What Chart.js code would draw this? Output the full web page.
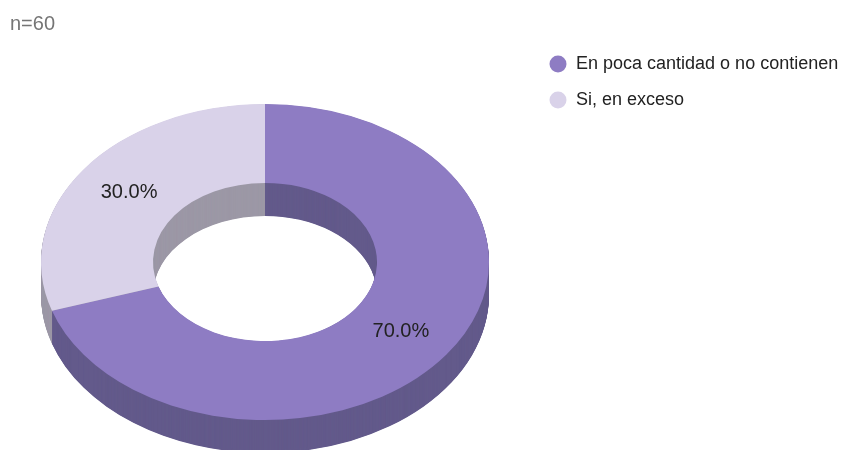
<!DOCTYPE html>
<html lang="es">
  <head>
    <meta charset="UTF-8" />
    <title>n=60</title>
    <style>
      body {
        margin: 0;
        background: white;
      }
      .wrap {
        position: relative;
        width: 842px;
        height: 450px;
      }
    </style>
  </head>
  <body>
    <div class="wrap">
      <canvas id="donut"></canvas>
    </div>

    <script src="https://cdn.jsdelivr.net/npm/chart.js"></script>
    <script>
      // Datos
      const categorias = ["En poca cantidad o no contienen", "Si, en exceso"];
      const respuestas = [42, 18];
      const titulo = "n=60";

      // Colores
      const colorCara = ["#8e7cc3", "#d9d2e9"];
      const colorLado = ["#635a8b", "#9c98a6"];

      // Proyeccion "3D": centro, radios de la elipse y profundidad
      const CX = 265;
      const CY = 262;
      const RX = 224;
      const RY = 158;
      const PROF = 33;

      function sector(ctx, a, dy, color) {
        ctx.beginPath();
        ctx.arc(a.x, a.y + dy, a.outerRadius, a.startAngle, a.endAngle);
        ctx.arc(a.x, a.y + dy, a.innerRadius, a.endAngle, a.startAngle, true);
        ctx.closePath();
        ctx.fillStyle = color;
        ctx.fill();
      }

      const inclinado = {
        id: "inclinado",
        beforeDatasetsDraw(chart) {
          const arcs = chart.getDatasetMeta(0).data;
          const a0 = arcs[0];
          const sx = RX / a0.outerRadius;
          const sy = RY / a0.outerRadius;
          const ctx = chart.ctx;
          ctx.save();
          ctx.translate(CX, CY);
          ctx.scale(sx, sy);
          ctx.translate(-a0.x, -a0.y);
          // paredes laterales, de abajo hacia arriba
          for (let k = PROF; k > 0; k -= 0.5) {
            arcs.forEach((a, i) => sector(ctx, a, k / sy, colorLado[i]));
          }
        },
        afterDatasetsDraw(chart) {
          const ctx = chart.ctx;
          ctx.restore();
          const arcs = chart.getDatasetMeta(0).data;
          const total = respuestas.reduce((s, v) => s + v, 0);
          const sx = RX / arcs[0].outerRadius;
          const sy = RY / arcs[0].outerRadius;
          ctx.save();
          ctx.font = '20px Arial, "Liberation Sans", sans-serif';
          ctx.fillStyle = "#222222";
          ctx.textAlign = "center";
          ctx.textBaseline = "middle";
          arcs.forEach((a, i) => {
            const ang = (a.startAngle + a.endAngle) / 2;
            const r = (a.innerRadius + a.outerRadius) / 2;
            const px = CX + Math.cos(ang) * r * sx;
            const py = CY + Math.sin(ang) * r * sy;
            ctx.fillText(((respuestas[i] / total) * 100).toFixed(1) + "%", px, py);
          });
          ctx.restore();
        },
      };

      Chart.defaults.font.family = 'Arial, "Liberation Sans", sans-serif';

      new Chart(document.getElementById("donut"), {
        type: "doughnut",
        data: {
          labels: categorias,
          datasets: [
            {
              data: respuestas,
              backgroundColor: colorCara,
              borderWidth: 0,
              clip: false,
            },
          ],
        },
        options: {
          responsive: true,
          maintainAspectRatio: false,
          animation: false,
          cutout: "50%",
          layout: { padding: { left: 10, right: 0, top: 0, bottom: 0 } },
          plugins: {
            title: {
              display: true,
              text: titulo,
              align: "start",
              color: "#757575",
              font: { size: 20, weight: "normal" },
              padding: { top: 12, bottom: 1 },
            },
            legend: {
              position: "right",
              align: "start",
              fullSize: false,
              maxWidth: 311,
              labels: {
                usePointStyle: true,
                pointStyle: "circle",
                boxWidth: 18,
                boxHeight: 12,
                padding: 18,
                color: "#222222",
                font: { size: 18 },
              },
            },
            tooltip: { enabled: false },
          },
        },
        plugins: [inclinado],
      });
    </script>
  </body>
</html>
